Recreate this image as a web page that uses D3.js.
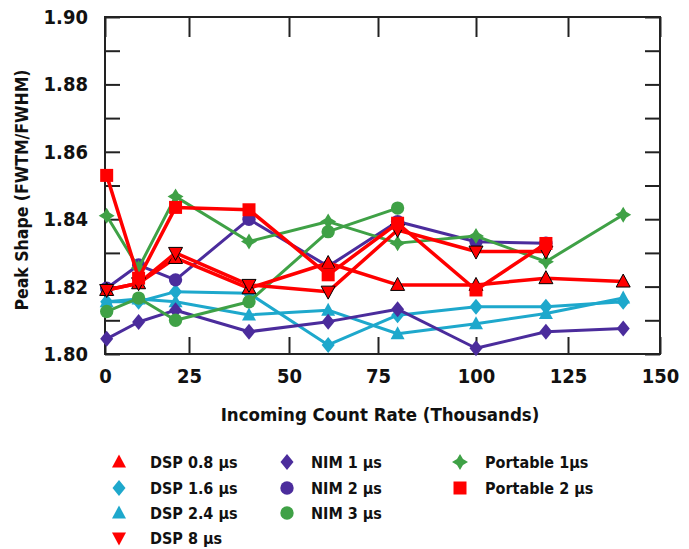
<!DOCTYPE html>
<html>
<head>
<meta charset="utf-8">
<script src="https://cdn.jsdelivr.net/npm/d3@7"></script>
<style>
html,body{margin:0;padding:0;background:#fff;}
svg{display:block;}
</style>
</head>
<body>
<svg id="chart" width="689" height="549"></svg>
<script>
// ---- data ----
const countRates = [0.5, 10, 21, 40, 61, 80, 100, 119, 140];
const xTickValues = [0, 25, 50, 75, 100, 125, 150];
const yTickValues = [1.80, 1.81, 1.82, 1.83, 1.84, 1.85, 1.86, 1.87, 1.88, 1.89, 1.90];

const dsp08 = [1.819, 1.821, 1.8285, 1.8195, 1.827, 1.8205, 1.8205, 1.8225, 1.8215];
const dsp16 = [1.8155, 1.8155, 1.8185, 1.818, 1.8027, 1.8115, 1.814, 1.814, 1.8155];
const dsp24 = [1.8155, 1.8163, 1.8155, 1.8116, 1.813, 1.806, 1.809, 1.812, 1.8166];
const dsp8 = [1.819, 1.821, 1.830, 1.8205, 1.8185, 1.8368, 1.8304, 1.8304];
const nim1 = [1.8045, 1.8095, 1.813, 1.8066, 1.8096, 1.8133, 1.8017, 1.8066, 1.8076];
const nim2 = [1.8195, 1.8264, 1.822, 1.840, 1.826, 1.8393, 1.8333, 1.8329];
const nim3 = [1.8126, 1.8166, 1.810, 1.8155, 1.8363, 1.8433];
const portable1 = [1.841, 1.8255, 1.8467, 1.8334, 1.8393, 1.8329, 1.835, 1.8274, 1.8413];
const portable2 = [1.853, 1.8225, 1.8435, 1.8428, 1.8235, 1.8388, 1.819, 1.8328];

const seriesNames = ["DSP 0.8 µs", "DSP 1.6 µs", "DSP 2.4 µs", "DSP 8 µs", "NIM 1 µs", "NIM 2 µs", "NIM 3 µs", "Portable 1µs", "Portable 2 µs"];

// ---- styles ----
const RED = "#ff0000", CYAN = "#1ea8cc", PURPLE = "#4b2c9c", GREEN = "#3fa146";
const series = [
  {name: seriesNames[0], values: dsp08, color: RED, shape: "tri", lw: 3.5, outline: true},
  {name: seriesNames[1], values: dsp16, color: CYAN, shape: "diamond", lw: 3},
  {name: seriesNames[2], values: dsp24, color: CYAN, shape: "tri", lw: 3},
  {name: seriesNames[3], values: dsp8, color: RED, shape: "triDown", lw: 3.5, outline: true},
  {name: seriesNames[4], values: nim1, color: PURPLE, shape: "diamond", lw: 3},
  {name: seriesNames[5], values: nim2, color: PURPLE, shape: "circle", lw: 3},
  {name: seriesNames[6], values: nim3, color: GREEN, shape: "circle", lw: 3},
  {name: seriesNames[7], values: portable1, color: GREEN, shape: "fatDiamond", lw: 3},
  {name: seriesNames[8], values: portable2, color: RED, shape: "square", lw: 3.5}
];
const drawOrder = [1, 2, 4, 5, 6, 7, 0, 3, 8];

const L = 105, R = 660, T = 17, B = 354;
const svg = d3.select("#chart");

const x = d3.scaleLinear().domain(xTickValues).range([105, 189, 289, 378, 476, 568, 660]);
const y = d3.scaleLinear().domain([1.80, 1.90]).range([B, T]);

function shapePath(shape) {
  switch (shape) {
    case "tri": return "M0,-7.5L7,5.5L-7,5.5Z";
    case "triDown": return "M0,7.5L7,-5.5L-7,-5.5Z";
    case "diamond": return "M0,-8L6.5,0L0,8L-6.5,0Z";
    case "fatDiamond": return "M0,-8L3,-3L8,0L3,3L0,8L-3,3L-8,0L-3,-3Z";
    case "square": return "M-6.5,-6.5H6.5V6.5H-6.5Z";
    case "circle": return d3.symbol(d3.symbolCircle, 140)();
  }
}

const tickFont = "'Liberation Sans Narrow','Arial Narrow','DejaVu Sans Condensed',sans-serif";

// axes
const fmt = d => (Math.round(d * 100) % 2 === 0) ? d3.format(".2f")(d) : "";
const gy = svg.append("g").attr("transform", `translate(${L},0)`)
  .call(d3.axisLeft(y).tickValues(yTickValues).tickSize(-15).tickPadding(17).tickFormat(fmt));
const gyr = svg.append("g").attr("transform", `translate(${R},0)`)
  .call(d3.axisRight(y).tickValues(yTickValues).tickSize(-15).tickFormat(""));
const gx = svg.append("g").attr("transform", `translate(0,${B})`)
  .call(d3.axisBottom(x).tickValues(xTickValues).tickSize(-17).tickPadding(15).tickFormat(d3.format("d")));
const gxt = svg.append("g").attr("transform", `translate(0,${T})`)
  .call(d3.axisTop(x).tickValues(xTickValues).tickSize(-20).tickFormat(""));
[gy, gyr, gx, gxt].forEach(g => {
  g.select(".domain").remove();
  g.selectAll(".tick line").attr("stroke", "#222").attr("stroke-width", 2);
  g.selectAll(".tick text").attr("font-family", tickFont).attr("font-weight", "bold")
    .attr("font-size", 20).attr("fill", "#111");
});
svg.append("rect").attr("x", L).attr("y", T).attr("width", R - L).attr("height", B - T)
  .attr("fill", "none").attr("stroke", "#222").attr("stroke-width", 2);

// titles
svg.append("text").attr("x", 380).attr("y", 421).attr("text-anchor", "middle")
  .attr("font-family", tickFont).attr("font-weight", "bold").attr("font-size", 18.5)
  .attr("fill", "#111").text("Incoming Count Rate (Thousands)");
svg.append("text").attr("transform", "translate(28,190) rotate(-90)").attr("text-anchor", "middle")
  .attr("font-family", tickFont).attr("font-weight", "bold").attr("font-size", 17.5)
  .attr("fill", "#111").text("Peak Shape (FWTM/FWHM)");

// series
const line = d3.line().x((d, i) => x(countRates[i])).y(d => y(d));
const plot = svg.append("g");
drawOrder.forEach(k => {
  const s = series[k];
  const g = plot.append("g");
  g.append("path").datum(s.values).attr("d", line).attr("fill", "none")
    .attr("stroke", s.color).attr("stroke-width", s.lw).attr("stroke-linejoin", "round");
  g.selectAll("path.m").data(s.values).join("path").attr("class", "m")
    .attr("d", shapePath(s.shape))
    .attr("transform", (d, i) => `translate(${x(countRates[i])},${y(d)})`)
    .attr("fill", s.color)
    .attr("stroke", s.outline ? "#000" : "none").attr("stroke-width", 1);
});

// legend
const legCols = [{mx: 119, tx: 150}, {mx: 287, tx: 311}, {mx: 460, tx: 485}];
const legRows = [462, 488, 513, 538];
const legPos = [[0,0],[0,1],[0,2],[0,3],[1,0],[1,1],[1,2],[2,0],[2,1]];
const leg = svg.append("g");
series.forEach((s, i) => {
  const [c, r] = legPos[i];
  leg.append("path").attr("d", shapePath(s.shape))
    .attr("transform", `translate(${legCols[c].mx},${legRows[r]})`).attr("fill", s.color);
  leg.append("text").attr("x", legCols[c].tx).attr("y", legRows[r] + 6)
    .attr("font-family", tickFont).attr("font-weight", "bold").attr("font-size", 16)
    .attr("fill", "#111").text(s.name);
});
</script>
</body>
</html>
